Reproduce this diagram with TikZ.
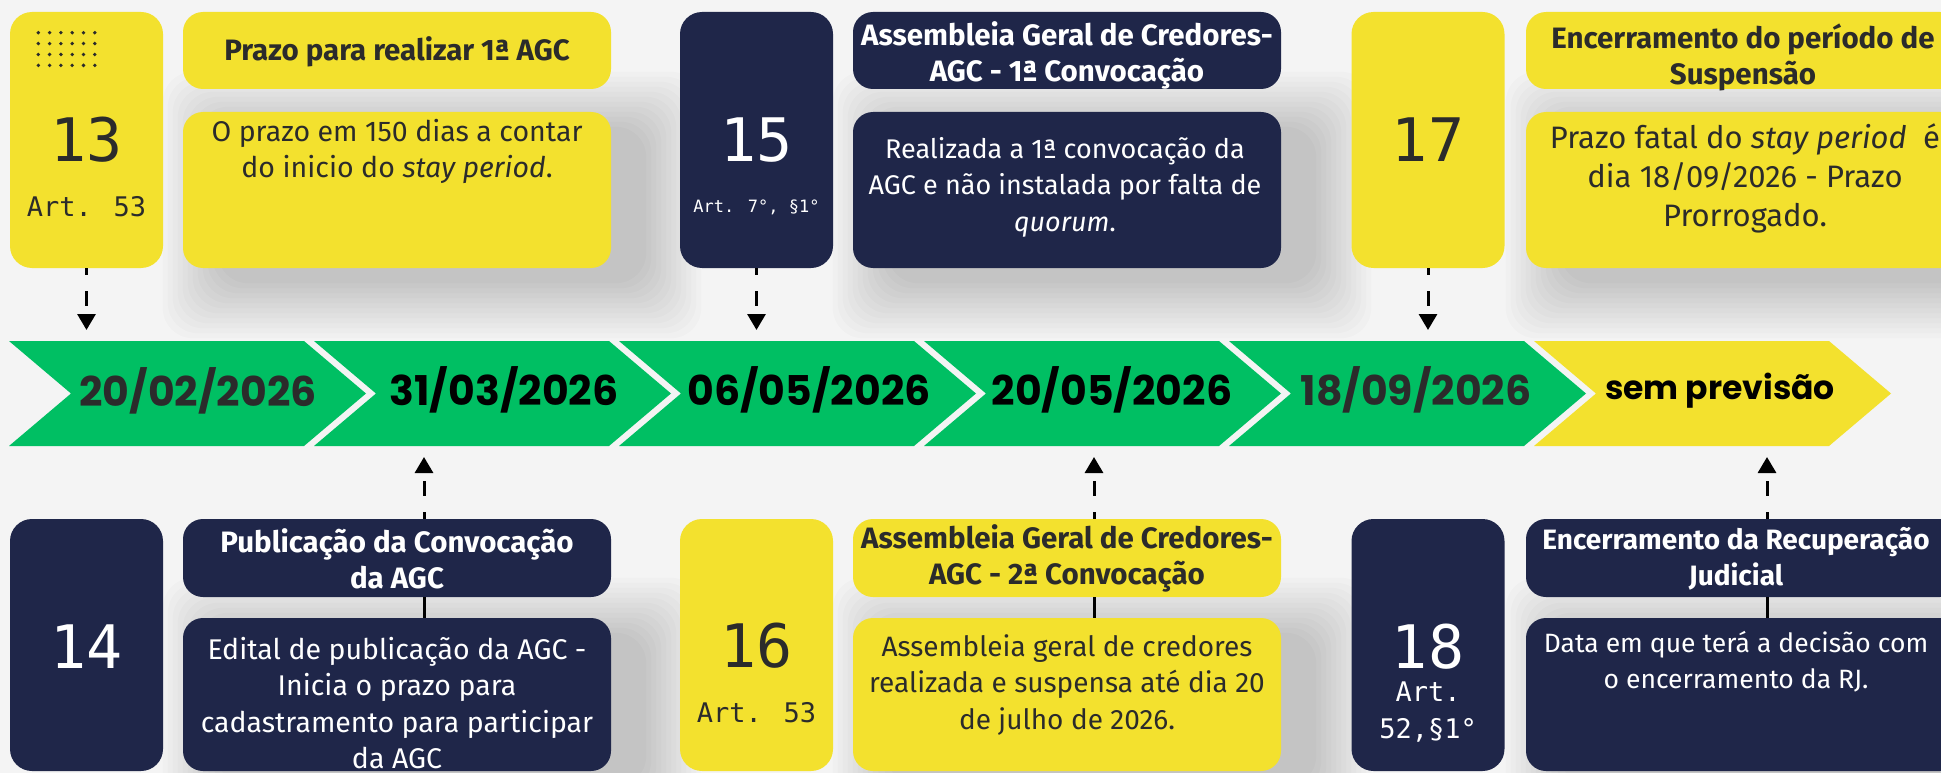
\documentclass[tikz,border=0pt]{standalone}
\usepackage{fontspec}
\setmainfont{Fira Sans}
\newfontfamily\datefont{Poppins}
\newfontfamily\numfont{DejaVu Sans Mono}
\usetikzlibrary{arrows.meta,calc}
\definecolor{bgc}{HTML}{F4F4F4}
\definecolor{ylw}{HTML}{F3E12E}
\definecolor{navy}{HTML}{1F2649}
\definecolor{grn}{HTML}{00BF63}
\definecolor{ink}{HTML}{2B2B2B}
\pgfdeclarelayer{back}
\pgfdeclarelayer{shade}
\pgfsetlayers{back,shade,main}
\newcommand\softshadow[1]{%
  \foreach \k in {0,...,11}{%
    \fill[black,opacity=0.014,rounded corners=30pt]
      ($(#1.north west)+(-20+5*\k,-40+5*\k)$) rectangle ($(#1.south east)+(90-5*\k,70-5*\k)$);}}
\tikzset{
  card/.style={rectangle, rounded corners=22pt, minimum width=153pt, inner sep=0pt},
  ycard/.style={card, fill=ylw},
  ncard/.style={card, fill=navy},
  panel/.style={rectangle, rounded corners=20pt, minimum width=428pt, inner sep=0pt},
  ypanel/.style={panel, fill=ylw},
  npanel/.style={panel, fill=navy},
  num/.style={font=\numfont\fontsize{60}{60}\selectfont, inner sep=0pt},
  art/.style={font=\numfont\fontsize{27}{37}\selectfont, inner sep=0pt, align=center},
  ttl/.style={font=\bfseries\fontsize{29.5}{36}\selectfont, align=center, inner sep=0pt, anchor=north},
  txt/.style={font=\fontsize{28}{36.5}\selectfont, align=center, inner sep=0pt, anchor=north},
  datetxt/.style={font=\datefont\bfseries\fontsize{41}{41}\selectfont, inner sep=0pt, anchor=base},
  dasharrow/.style={line width=3pt, dash pattern=on 15pt off 16pt, dash phase=8pt,
    -{Triangle[length=16pt,width=18pt]}},
  conn/.style={line width=3pt},
}
\begin{document}
\begin{tikzpicture}[x=1pt,y=-1pt]
\useasboundingbox (0,0) rectangle (1941,773);
\begin{pgfonlayer}{back}
  \fill[bgc] (0,0) rectangle (1941,773);
\end{pgfonlayer}

% ---------- timeline chevrons ----------
\foreach \i/\c in {0/grn,1/grn,2/grn,3/grn,4/grn,5/ylw}{
  \pgfmathsetmacro\L{9+305*\i}
  \fill[\c] (\L,341) -- (\L+295,341) -- (\L+357,393.5) -- (\L+295,446) -- (\L,446) -- (\L+62,393.5) -- cycle;
}
\node[datetxt, text=ink] (dt1) at (198,406) {20/02/2026};
\node[datetxt, text=black] (dt2) at (504,405) {31/03/2026};
\node[datetxt, text=black] (dt3) at (809,405) {06/05/2026};
\node[datetxt, text=black] (dt4) at (1112,405) {20/05/2026};
\node[datetxt, text=ink] (dt5) at (1416,405) {18/09/2026};
\node[datetxt, text=black, font=\datefont\bfseries\fontsize{33}{33}\selectfont] (dt6) at (1720,399) {sem previsão};

% ---------- top row ----------
\node[ycard, minimum height=256pt] (c13) at (86.5,140) {};
\foreach \i in {0,...,5}{\foreach \j in {0,...,3}{
  \fill[ink] (38.3+11.3*\i,32.7+10.9*\j) circle (1.9pt);}}
\node[num, text=ink] (n13) at (86.5,140) {13};
\node[art, text=ink] (a13) at (86.5,207) {Art. 53};

\node[ypanel, minimum height=77pt] (t13) at (397,50.5) {};
\node[ttl, text=ink, anchor=base] (tt13) at (397,61) {Prazo para realizar 1ª AGC};
\node[ypanel, minimum height=156pt] (d13) at (397,190) {};
\node[txt, text=ink, font=\fontsize{28.5}{36.5}\selectfont] (tx13) at (397,119) {O prazo em 150 dias a contar\\do inicio do \textit{stay period}.};

\node[ncard, minimum height=256pt] (c15) at (756.5,140) {};
\node[num, text=white] (n15) at (756.5,140) {15};
\node[art, text=white, font=\numfont\fontsize{17}{20}\selectfont] (a15) at (756.5,207) {Art. 7°, §1°};

\node[npanel, minimum height=77pt] (t15) at (1067,50.5) {};
\node[ttl, text=white] (tt15) at (1067,21) {Assembleia Geral de Credores-\\AGC - 1ª Convocação};
\node[npanel, minimum height=156pt] (d15) at (1067,190) {};
\node[txt, text=white, font=\fontsize{27}{36.5}\selectfont] (tx15) at (1065,137) {Realizada a 1ª convocação da\\AGC e não instalada por falta de\\\textit{quorum}.};

\node[ycard, minimum height=256pt] (c17) at (1428,140) {};
\node[num, text=ink] (n17) at (1428,140) {17};

\node[ypanel, minimum height=77pt, minimum width=434pt] (t17) at (1743,50.5) {};
\node[ttl, text=ink] (tt17) at (1743,24) {Encerramento do período de\\Suspensão};
\node[ypanel, minimum height=156pt, minimum width=434pt] (d17) at (1743,190) {};
\node[txt, text=ink, font=\fontsize{31}{39}\selectfont] (tx17) at (1745,123) {Prazo fatal do \textit{stay period}~ é\\dia 18/09/2026 - Prazo\\Prorrogado.};

% ---------- bottom row ----------
\node[ncard, minimum height=252pt] (c14) at (86.5,645) {};
\node[num, text=white] (n14) at (86.5,647) {14};

\node[npanel, minimum height=78pt] (t14) at (397,558) {};
\node[ttl, text=white] (tt14) at (397,528) {Publicação da Convocação\\da AGC};
\node[npanel, minimum height=153pt] (d14) at (397,694.5) {};
\node[txt, text=white, font=\fontsize{28.5}{36.5}\selectfont] (tx14) at (397,637) {Edital de publicação da AGC -\\Inicia o prazo para\\cadastramento para participar\\da AGC};

\node[ycard, minimum height=252pt] (c16) at (756.5,645) {};
\node[num, text=ink] (n16) at (756.5,646) {16};
\node[art, text=ink] (a16) at (756.5,713) {Art. 53};

\node[ypanel, minimum height=78pt] (t16) at (1067,558) {};
\node[ttl, text=ink] (tt16) at (1067,524) {Assembleia Geral de Credores-\\AGC - 2ª Convocação};
\node[ypanel, minimum height=153pt] (d16) at (1067,694.5) {};
\node[txt, text=ink] (tx16) at (1067,634) {Assembleia geral de credores\\realizada e suspensa até dia 20\\de julho de 2026.};

\node[ncard, minimum height=252pt] (c18) at (1428,645) {};
\node[num, text=white] (n18) at (1428,647) {18};
\node[art, text=white] (a18) at (1428,712) {Art.\\52,§1°};

\node[npanel, minimum height=78pt, minimum width=434pt] (t18) at (1743,558) {};
\node[ttl, text=white, font=\bfseries\fontsize{28}{36}\selectfont] (tt18) at (1736,527) {Encerramento da Recuperação\\Judicial};
\node[npanel, minimum height=153pt, minimum width=434pt] (d18) at (1743,694.5) {};
\node[txt, text=white, font=\fontsize{26.5}{36.5}\selectfont] (tx18) at (1736,631) {Data em que terá a decisão com\\o encerramento da RJ.};

% ---------- shadows ----------
\begin{pgfonlayer}{shade}
  \softshadow{d13}\softshadow{d15}\softshadow{d17}
  \softshadow{d14}\softshadow{d16}\softshadow{d18}
\end{pgfonlayer}

% ---------- connectors ----------
\coordinate (e13) at (86.5,330);
\coordinate (e15) at (756.5,330);
\coordinate (e17) at (1428,330);
\draw[dasharrow] (c13.south) -- (e13);
\draw[dasharrow] (c15.south) -- (e15);
\draw[dasharrow] (c17.south) -- (e17);

\coordinate (e14) at (424,457);
\coordinate (e16) at (1094,457);
\coordinate (e18) at (1767,457);
\draw[dasharrow] (t14.north -| e14) -- (e14);
\draw[dasharrow] (t16.north -| e16) -- (e16);
\draw[dasharrow] (t18.north -| e18) -- (e18);
\draw[conn] (t14.south -| e14) -- (d14.north -| e14);
\draw[conn] (t16.south -| e16) -- (d16.north -| e16);
\draw[conn] (t18.south -| e18) -- (d18.north -| e18);
\end{tikzpicture}
\end{document}
